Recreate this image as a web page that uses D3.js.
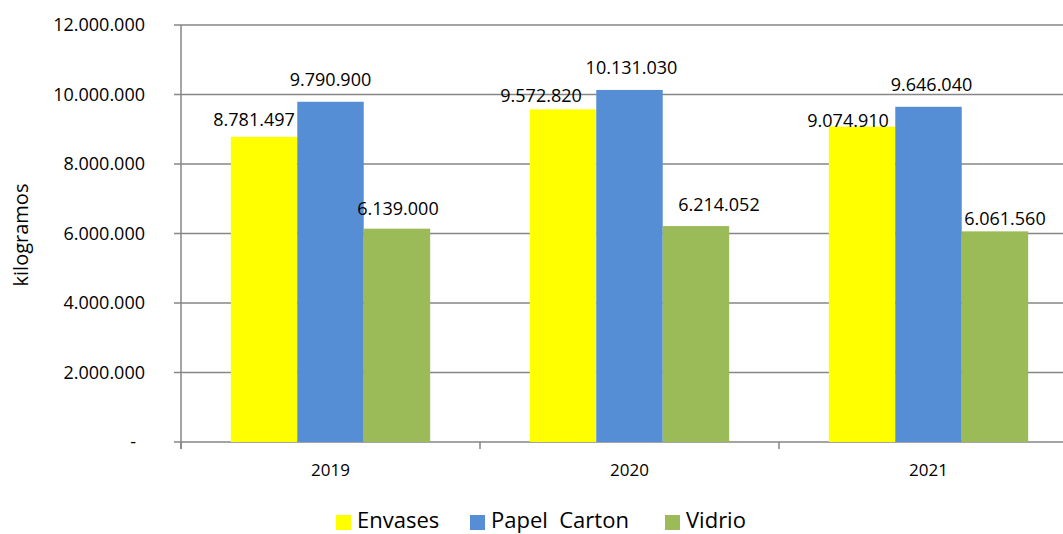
<!DOCTYPE html>
<html>
<head>
<meta charset="utf-8">
<script src="https://cdn.jsdelivr.net/npm/d3@7"></script>
<style>
  body { margin: 0; background: #fff; }
  text { font-family: "Open Sans", sans-serif; fill: #000; }
</style>
</head>
<body>
<div id="chart"></div>
<script>
const years = ["2019", "2020", "2021"];
const seriesNames = ["Envases", "Papel  Carton", "Vidrio"];
const envases = [8781497, 9572820, 9074910];
const papelCarton = [9790900, 10131030, 9646040];
const vidrio = [6139000, 6214052, 6061560];
const yTicks = [0, 2000000, 4000000, 6000000, 8000000, 10000000, 12000000];

// Excel moved some labels to avoid overlaps: [dx, dy] per series, per year
const labelNudge = [
    [[-10, -11], [-22, -7], [-14, 0]],
    [[0, -16], [2, -16], [3, -16]],
    [[1, -14], [23, -15], [10, -6]]
];

const width = 1063, height = 534;
const margin = {top: 25, left: 181, bottom: 92};
const plotBottom = height - margin.bottom;

const svg = d3.select("#chart").append("svg")
    .attr("width", width).attr("height", height);

const x0 = d3.scaleBand().domain(years).range([margin.left, margin.left + 3 * 299]).paddingInner(0).paddingOuter(0);
const x1 = d3.scaleBand().domain(seriesNames).range([x0.bandwidth() / 6, x0.bandwidth() * 5 / 6]);
const y = d3.scaleLinear().domain([0, 12000000]).range([plotBottom, margin.top]);
const color = d3.scaleOrdinal().domain(seriesNames).range(["#ffff00", "#558ed5", "#9bbb59"]);

const fmt = v => v === 0 ? "-" : d3.format(",")(v).replace(/,/g, ".");

// gridlines
svg.append("g").selectAll("line")
   .data(yTicks).enter().append("line")
   .attr("x1", margin.left - 7).attr("x2", width)
   .attr("y1", d => y(d)).attr("y2", d => y(d))
   .attr("stroke", "#868686").attr("stroke-width", 1.5);

// y axis
svg.append("line")
   .attr("x1", margin.left).attr("x2", margin.left)
   .attr("y1", margin.top).attr("y2", plotBottom + 7)
   .attr("stroke", "#868686").attr("stroke-width", 1.5);

svg.append("g").selectAll("text")
   .data(yTicks).enter().append("text")
   .attr("x", d => d === 0 ? 136 : 145)
   .attr("y", d => y(d))
   .attr("dy", "0.35em")
   .attr("text-anchor", "end")
   .style("font-size", "18px")
   .text(fmt);

// x ticks
const xEdges = years.map(d => x0(d)).concat([x0(years[2]) + x0.bandwidth()]);
svg.append("g").selectAll("line")
   .data(xEdges).enter().append("line")
   .attr("x1", d => d).attr("x2", d => d)
   .attr("y1", plotBottom).attr("y2", plotBottom + 7)
   .attr("stroke", "#868686").attr("stroke-width", 1.5);

svg.append("g").selectAll("text")
   .data(years).enter().append("text")
   .attr("x", d => x0(d) + x0.bandwidth() / 2)
   .attr("y", 476)
   .attr("text-anchor", "middle")
   .style("font-size", "17px")
   .text(d => d);

// bars
const values = [envases, papelCarton, vidrio];
const rows = [];
seriesNames.forEach((s, si) => {
    years.forEach((yr, yi) => {
        rows.push({series: s, si: si, year: yr, yi: yi, value: values[si][yi]});
    });
});

svg.append("g").selectAll("rect")
   .data(rows).enter().append("rect")
   .attr("x", d => x0(d.year) + x1(d.series))
   .attr("y", d => y(d.value))
   .attr("width", x1.bandwidth())
   .attr("height", d => plotBottom - y(d.value))
   .attr("fill", d => color(d.series));

svg.append("g").selectAll("text")
   .data(rows).enter().append("text")
   .attr("x", d => x0(d.year) + x1(d.series) + x1.bandwidth() / 2 + labelNudge[d.si][d.yi][0])
   .attr("y", d => y(d.value) + labelNudge[d.si][d.yi][1])
   .attr("text-anchor", "middle")
   .style("font-size", "18px")
   .text(d => fmt(d.value));

// axis title
svg.append("text")
   .attr("transform", "translate(28,235) rotate(-90)")
   .attr("text-anchor", "middle")
   .style("font-size", "20px")
   .text("kilogramos");

// legend
const legendX = [336, 470, 665];
const legend = svg.append("g");
seriesNames.forEach((s, i) => {
    legend.append("rect")
          .attr("x", legendX[i]).attr("y", 515)
          .attr("width", 15).attr("height", 15)
          .attr("fill", color(s));
    legend.append("text")
          .attr("x", legendX[i] + 21).attr("y", 528)
          .attr("xml:space", "preserve")
          .style("white-space", "pre")
          .style("font-size", "22px")
          .text(s);
});
</script>
</body>
</html>
